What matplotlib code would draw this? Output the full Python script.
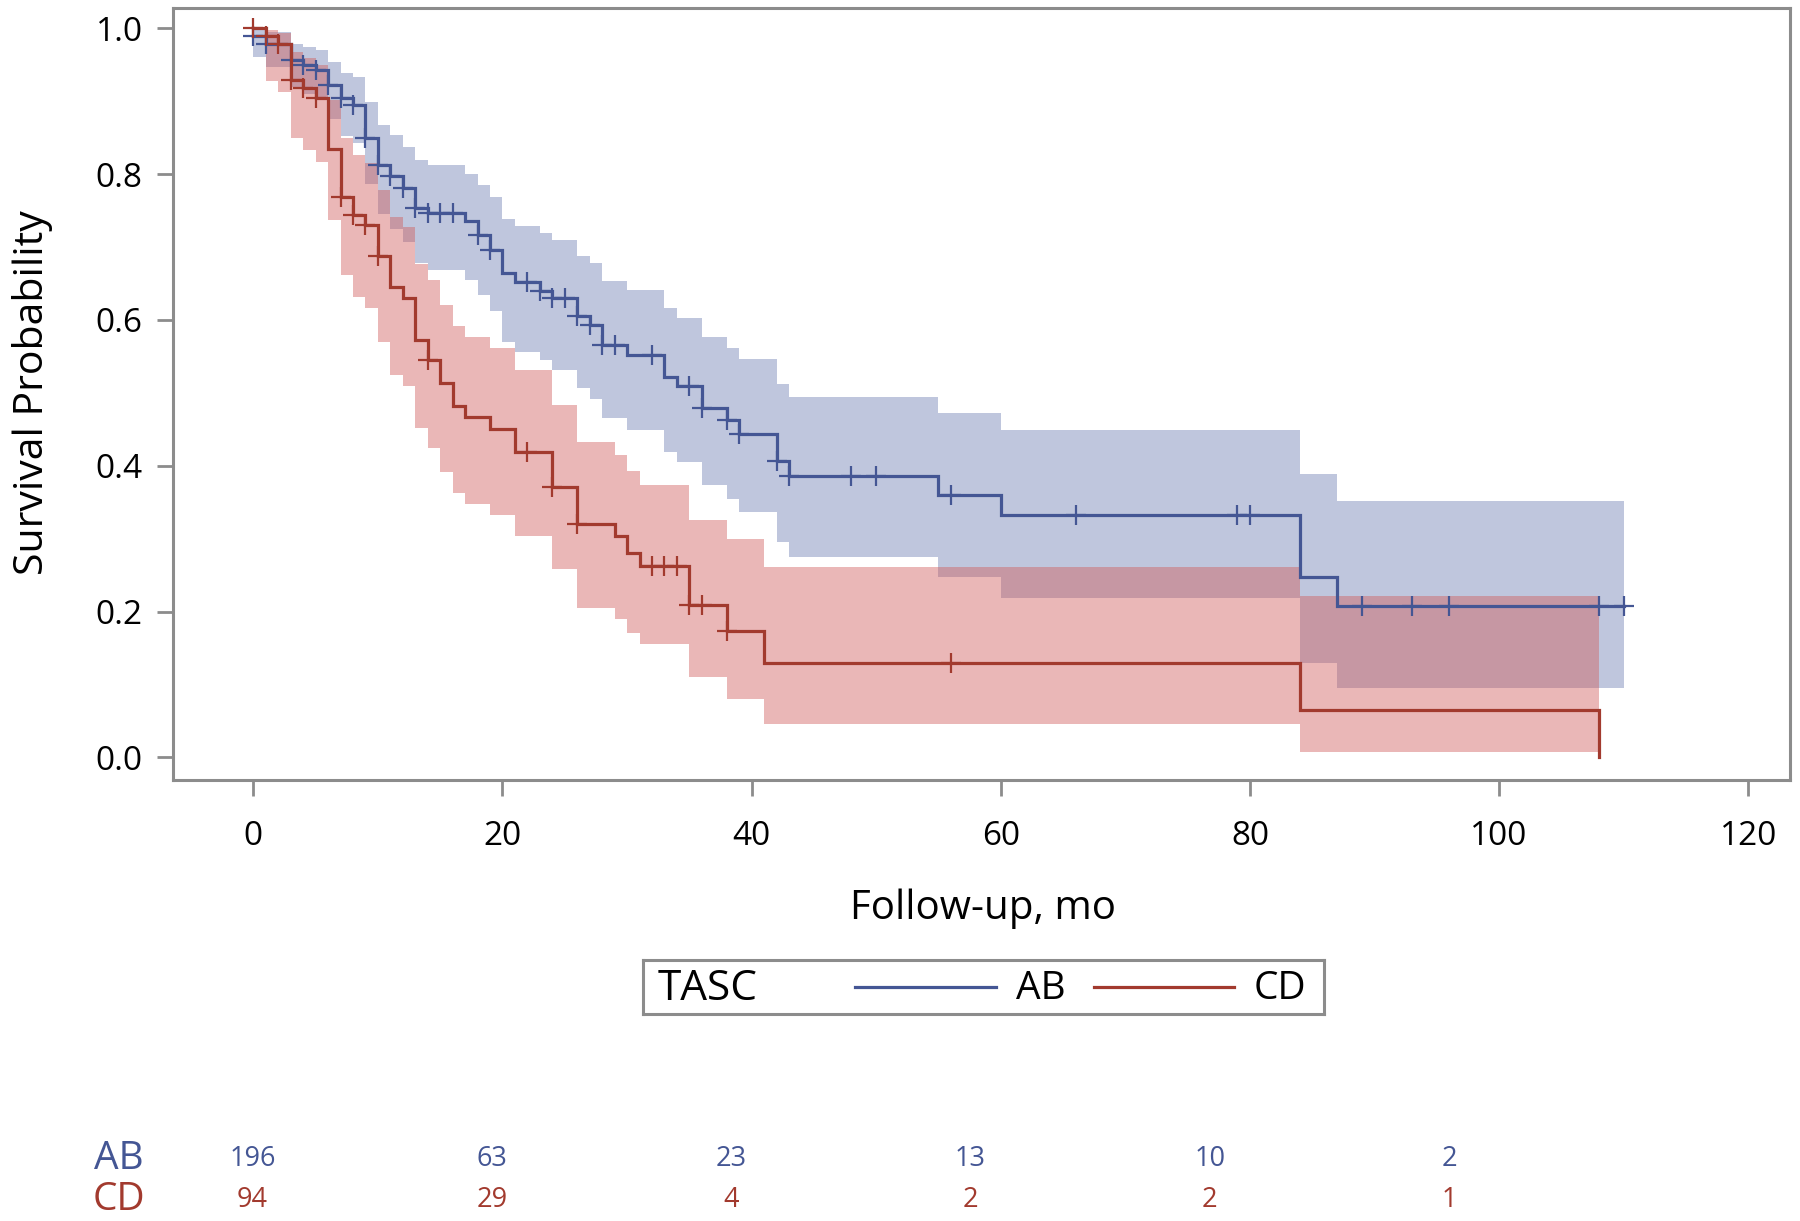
import numpy as np
import matplotlib
matplotlib.use("Agg")
import matplotlib.pyplot as plt

plt.rcParams['font.family'] = ['Open Sans', 'DejaVu Sans']

# ---------------- data ----------------
# TASC AB
ab_time = [0, 1, 3, 4, 5, 6, 7, 8, 9, 10, 11, 12, 13, 14, 17, 18, 19, 20, 21, 23, 24, 26, 27, 28,
           30, 33, 34, 36, 38, 39, 42, 43, 55, 60, 84, 87]
ab_surv = [0.990, 0.979, 0.956, 0.949, 0.943, 0.922, 0.904, 0.895, 0.850, 0.813, 0.797, 0.781,
           0.754, 0.746, 0.735, 0.716, 0.696, 0.664, 0.652, 0.639, 0.630, 0.605, 0.593, 0.565,
           0.552, 0.522, 0.509, 0.479, 0.463, 0.444, 0.406, 0.386, 0.360, 0.332, 0.248, 0.208]
ab_lower = [0.961, 0.947, 0.920, 0.910, 0.905, 0.875, 0.852, 0.842, 0.787, 0.745, 0.725, 0.707,
            0.678, 0.668, 0.655, 0.634, 0.612, 0.570, 0.556, 0.545, 0.531, 0.506, 0.492, 0.465,
            0.449, 0.419, 0.405, 0.373, 0.355, 0.337, 0.296, 0.275, 0.248, 0.218, 0.129, 0.095]
ab_upper = [1.000, 0.995, 0.978, 0.975, 0.970, 0.954, 0.938, 0.933, 0.899, 0.867, 0.854, 0.837,
            0.819, 0.812, 0.800, 0.785, 0.768, 0.739, 0.729, 0.719, 0.710, 0.688, 0.678, 0.654,
            0.641, 0.617, 0.603, 0.577, 0.561, 0.546, 0.512, 0.494, 0.473, 0.449, 0.388, 0.351]
ab_end = 110
ab_censor = [0, 1, 3, 4, 5, 6, 7, 8, 9, 10, 11, 12, 13, 14, 15, 16, 18, 19, 22, 23, 24, 25, 26,
             27, 28, 29, 32, 35, 36, 38, 39, 42, 43, 48, 50, 56, 66, 79, 80, 89, 93, 96, 108, 110]

# TASC CD
cd_time = [0, 1, 2, 3, 4, 5, 6, 7, 8, 9, 10, 11, 12, 13, 14, 15, 16, 17, 19, 21, 24, 26, 29, 30,
           31, 35, 38, 41, 84, 108]
cd_surv = [1.000, 0.989, 0.979, 0.929, 0.918, 0.904, 0.835, 0.769, 0.744, 0.730, 0.687, 0.645,
           0.630, 0.572, 0.545, 0.513, 0.482, 0.467, 0.451, 0.419, 0.371, 0.320, 0.303, 0.280,
           0.262, 0.209, 0.174, 0.130, 0.065, 0.000]
cd_lower = [1.000, 0.928, 0.913, 0.849, 0.833, 0.817, 0.737, 0.662, 0.632, 0.616, 0.570, 0.525,
            0.510, 0.452, 0.424, 0.392, 0.362, 0.347, 0.332, 0.304, 0.258, 0.205, 0.190, 0.170,
            0.155, 0.110, 0.080, 0.046, 0.008]
cd_upper = [1.000, 0.998, 0.993, 0.968, 0.959, 0.950, 0.902, 0.849, 0.826, 0.815, 0.778, 0.741,
            0.727, 0.677, 0.655, 0.620, 0.591, 0.577, 0.561, 0.532, 0.483, 0.433, 0.415, 0.393,
            0.373, 0.325, 0.299, 0.261, 0.221]
cd_end = 108
cd_censor = [0, 1, 2, 3, 4, 5, 7, 8, 9, 10, 14, 22, 24, 26, 32, 33, 34, 35, 36, 38, 56]

groups = ['AB', 'CD']
risk_times = [0, 20, 40, 60, 80, 100]
ab_risk = [196, 63, 23, 13, 10, 2]
cd_risk = [94, 29, 4, 2, 2, 1]

x_ticks = [0, 20, 40, 60, 80, 100, 120]
y_ticks = [0.0, 0.2, 0.4, 0.6, 0.8, 1.0]
x_label = 'Follow-up, mo'
y_label = 'Survival Probability'
legend_title = 'TASC'

# ---------------- style ----------------
W, H = 1800, 1221
blue_line, red_line = '#445694', '#A23A2E'
blue_fill, red_fill = '#6F7EB3', '#D05B5B'
frame_col = '#8C8C8C'

fig = plt.figure(figsize=(W / 100, H / 100), dpi=100)

ax_l, ax_r, ax_t, ax_b = 172.7, 1790, 8.3, 780
ax = fig.add_axes([ax_l / W, 1 - ax_b / H, (ax_r - ax_l) / W, (ax_b - ax_t) / H])
ax.set_xlim(-6.47, 123.35)
ax.set_ylim(-0.031, 1.0274)


def step_value(times, vals, t):
    i = np.searchsorted(times, t, side='right') - 1
    return np.asarray(vals)[i]


def draw_group(times, surv, lower, upper, end, censor, lc, fc, z):
    times = np.asarray(times, float)
    nb = len(lower)
    bx = np.append(times[:nb], end)
    ax.fill_between(bx, np.append(lower, lower[-1]), np.append(upper, upper[-1]),
                    step='post', color=fc, alpha=0.44, linewidth=0, zorder=z)
    if times[-1] == end:
        sx, sy = times, np.asarray(surv)
    else:
        sx = np.append(times, end)
        sy = np.append(surv, surv[-1])
    ax.step(sx, sy, where='post', color=lc, lw=2.3, zorder=z + 5, solid_joinstyle='miter')
    cy = [step_value(times, surv, c) for c in censor]
    ax.plot(censor, cy, linestyle='none', marker='+', markersize=15, mew=1.6,
            color=lc, zorder=z + 6)


draw_group(ab_time, ab_surv, ab_lower, ab_upper, ab_end, ab_censor, blue_line, blue_fill, 1)
draw_group(cd_time, cd_surv, cd_lower, cd_upper, cd_end, cd_censor, red_line, red_fill, 2)

for s in ax.spines.values():
    s.set_color(frame_col)
    s.set_linewidth(2.2)
ax.set_xticks(x_ticks)
ax.set_yticks(y_ticks)
ax.set_yticklabels([f'{v:.1f}' for v in y_ticks])
ax.tick_params(axis='both', direction='out', length=11.5, width=2.0, color=frame_col,
               labelsize=24, labelcolor='black')
ax.tick_params(axis='x', pad=17)
ax.tick_params(axis='y', pad=10)

fig.text(983 / W, 1 - 909 / H, x_label, ha='center', va='center', fontsize=29)
fig.text(33 / W, 1 - 393 / H, y_label, ha='center', va='center', rotation=90, fontsize=29.5)

# ---------------- legend ----------------
lg_l, lg_r, lg_t, lg_b = 643, 1324, 960, 1014
lax = fig.add_axes([lg_l / W, 1 - lg_b / H, (lg_r - lg_l) / W, (lg_b - lg_t) / H])
lax.set_xlim(0, 1)
lax.set_ylim(0, 1)
lax.set_xticks([])
lax.set_yticks([])
for s in lax.spines.values():
    s.set_color(frame_col)
    s.set_linewidth(2.2)
lax.text(0.022, 0.47, legend_title, ha='left', va='center', fontsize=30.5)
lax.plot([0.312, 0.519], [0.5, 0.5], color=blue_line, lw=2.3)
lax.text(0.548, 0.47, groups[0], ha='left', va='center', fontsize=28)
lax.plot([0.662, 0.868], [0.5, 0.5], color=red_line, lw=2.3)
lax.text(0.896, 0.47, groups[1], ha='left', va='center', fontsize=28)

# ---------------- at-risk table ----------------
tax = fig.add_axes([ax_l / W, 0.0, (ax_r - ax_l) / W, 110 / H])
tax.set_xlim(-6.68, 128.5)
tax.set_ylim(0, 1)
tax.axis('off')
for row_y, name, risk, col in [(0.565, groups[0], ab_risk, blue_line),
                               (0.19, groups[1], cd_risk, red_line)]:
    tax.text(-11.2, row_y, name, ha='center', va='center', fontsize=28, color=col, clip_on=False)
    for t, n in zip(risk_times, risk):
        tax.text(t, row_y, str(n), ha='center', va='center', fontsize=19.5, color=col)

fig.savefig('out.png', dpi=100)
